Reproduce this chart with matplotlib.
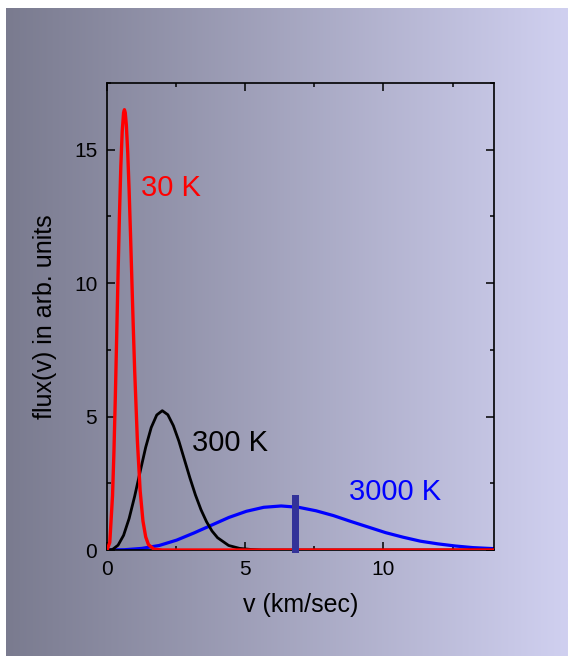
import numpy as np
import matplotlib
matplotlib.use("Agg")
import matplotlib.pyplot as plt
from matplotlib.ticker import MultipleLocator

plt.rcParams["font.family"] = ["Liberation Sans", "DejaVu Sans"]

# values
v_30 = [0, 0.1, 0.2, 0.25, 0.3, 0.35, 0.4, 0.45, 0.5, 0.55, 0.6, 0.63, 0.66, 0.7,
        0.75, 0.8, 0.85, 0.9, 0.95, 1.0, 1.1, 1.2, 1.3, 1.4, 1.5, 1.7, 2.0, 14]
f_30 = [0, 0.28, 2.03, 3.65, 5.68, 7.98, 10.34, 12.54, 14.37, 15.68, 16.39, 16.5, 16.39, 15.92,
        14.89, 13.48, 11.84, 10.10, 8.37, 6.75, 4.07, 2.21, 1.09, 0.49, 0.20, 0.03, 0, 0]

v_300 = [0, 0.2, 0.4, 0.6, 0.8, 1.0, 1.2, 1.4, 1.6, 1.8, 2.0, 2.2, 2.4, 2.6, 2.8,
         3.0, 3.2, 3.4, 3.6, 3.8, 4.0, 4.4, 4.8, 5.2, 5.6, 14]
f_300 = [0, 0.02, 0.18, 0.55, 1.18, 2.01, 2.94, 3.85, 4.59, 5.06, 5.22, 5.07, 4.66, 4.08, 3.39,
         2.70, 2.06, 1.51, 1.06, 0.71, 0.46, 0.17, 0.06, 0.02, 0, 0]

v_3000 = [0, 0.63, 1.26, 1.89, 2.52, 3.15, 3.78, 4.41, 5.04, 5.67, 6.3, 6.93, 7.56,
          8.19, 8.82, 9.45, 10.08, 10.71, 11.34, 11.97, 12.6, 13.23, 14]
f_3000 = [0, 0.01, 0.06, 0.17, 0.37, 0.64, 0.93, 1.22, 1.45, 1.60, 1.65, 1.60, 1.47,
          1.29, 1.07, 0.86, 0.65, 0.48, 0.33, 0.23, 0.15, 0.09, 0.05]

marker_v = 6.82
marker_h = 2.05

labels = ["30 K", "300 K", "3000 K"]
label_x = [1.23, 3.07, 8.74]
label_y = [13.57, 4.0, 2.17]
colors = ["#ff0000", "#000000", "#0000ff"]

fig = plt.figure(figsize=(5.68, 6.56), dpi=100)
fig.patch.set_facecolor("white")

# gradient panel behind everything
bg = fig.add_axes([6 / 568, 0, 1 - 6 / 568, 1 - 8 / 656], zorder=-10)
c0 = np.array([122, 123, 143]) / 255
c1 = np.array([208, 208, 240]) / 255
t = np.linspace(0, 1, 256)
grad = (c0[None, :] * (1 - t[:, None]) + c1[None, :] * t[:, None])[None, :, :]
bg.imshow(grad, aspect="auto", extent=[0, 1, 0, 1])
bg.set_axis_off()

ax = fig.add_axes([107 / 568, 1 - 550 / 656, (494 - 107) / 568, (550 - 83) / 656])
ax.patch.set_alpha(0)

ax.plot(v_3000, f_3000, color=colors[2], lw=2.3, zorder=2)
ax.plot(v_300, f_300, color=colors[1], lw=2.0, zorder=3)
ax.plot(v_30, f_30, color=colors[0], lw=2.4, zorder=4)
ax.bar([marker_v], [marker_h + 0.1], bottom=-0.1, width=0.28, color="#333399",
       zorder=5, clip_on=False)

for lab, x, y, c in zip(labels, label_x, label_y, colors):
    ax.text(x, y, lab, color=c, fontsize=21, ha="left", va="center")

ax.set_xlim(0, 14)
ax.set_ylim(0, 17.5)
ax.xaxis.set_major_locator(MultipleLocator(5))
ax.xaxis.set_minor_locator(MultipleLocator(2.5))
ax.yaxis.set_major_locator(MultipleLocator(5))
ax.yaxis.set_minor_locator(MultipleLocator(2.5))
ax.tick_params(which="both", direction="in", top=True, right=True, width=1.1,
               labelsize=15, pad=7)
ax.tick_params(which="major", length=5.5)
ax.tick_params(which="minor", length=3)
for s in ax.spines.values():
    s.set_linewidth(1.2)

ax.set_xlabel("v (km/sec)", fontsize=18, labelpad=10)
ax.set_ylabel("flux(v) in arb. units", fontsize=18, labelpad=12)

fig.savefig("out.png", dpi=100)
